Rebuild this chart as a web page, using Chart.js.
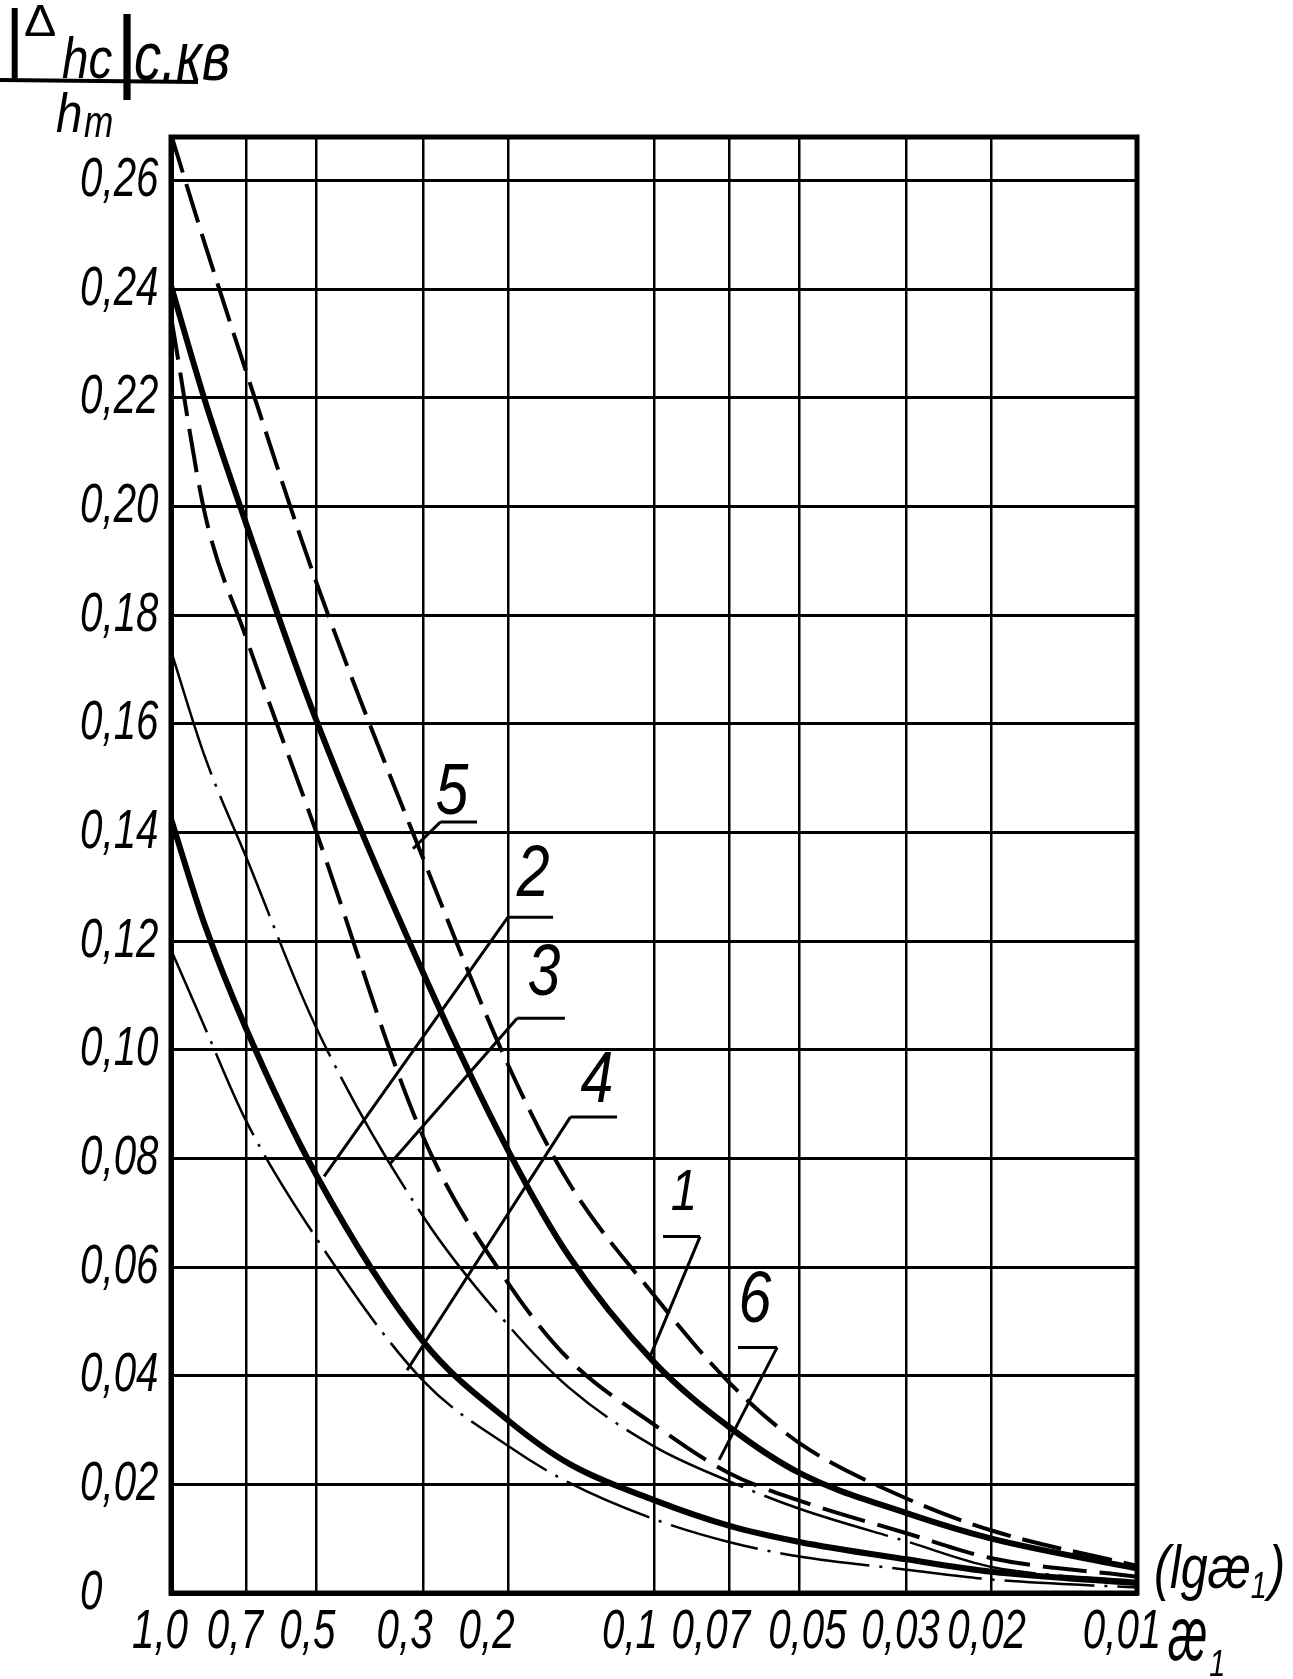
<!DOCTYPE html>
<html>
<head>
<meta charset="utf-8">
<script src="https://cdn.jsdelivr.net/npm/chart.js@4.4.1/dist/chart.umd.min.js"></script>
<style>
  html, body { margin: 0; padding: 0; background: #fff; }
  #wrap { width: 1293px; height: 1679px; }
</style>
</head>
<body>
<div id="wrap"><canvas id="chart" width="1293" height="1679"></canvas></div>
<script>
// ── DATA ─────────────────────────────────────────────────────────
const xValues = [1, 0.85, 0.7, 0.5, 0.3, 0.2, 0.15, 0.1, 0.07, 0.05, 0.03, 0.02, 0.01];

const curve5 = [0.2685, 0.2482, 0.225, 0.186, 0.135, 0.097, 0.0755, 0.0548, 0.0388, 0.0276, 0.0174, 0.0115, 0.005];
const curve1 = [0.2406, 0.2194, 0.197, 0.1606, 0.114, 0.0813, 0.062, 0.0425, 0.0306, 0.0221, 0.0147, 0.010, 0.0045];
const curve6 = [0.235, 0.1985, 0.176, 0.140, 0.0838, 0.0569, 0.043, 0.031, 0.0221, 0.017, 0.011, 0.0064, 0.003];
const curve3 = [0.1734, 0.1538, 0.1356, 0.104, 0.0692, 0.0492, 0.0378, 0.027, 0.0206, 0.0155, 0.0095, 0.0048, 0.0022];
const curve2 = [0.1425, 0.1228, 0.104, 0.0769, 0.0462, 0.0317, 0.0238, 0.0171, 0.0124, 0.0094, 0.0062, 0.0039, 0.0018];
const curve4 = [0.1184, 0.104, 0.087, 0.0653, 0.039, 0.027, 0.0203, 0.0136, 0.0094, 0.0067, 0.0043, 0.0025, 0.001];

const xTicks      = [1, 0.7, 0.5, 0.3, 0.2, 0.1, 0.07, 0.05, 0.03, 0.02, 0.01];
const xTickLabels = ['1,0', '0,7', '0,5', '0,3', '0,2', '0,1', '0,07', '0,05', '0,03', '0,02', '0,01'];
const yTicks      = [0, 0.02, 0.04, 0.06, 0.08, 0.10, 0.12, 0.14, 0.16, 0.18, 0.20, 0.22, 0.24, 0.26];
const yTickLabels = ['0', '0,02', '0,04', '0,06', '0,08', '0,10', '0,12', '0,14', '0,16', '0,18', '0,20', '0,22', '0,24', '0,26'];

// ── LOOK ─────────────────────────────────────────────────────────
const INK  = '#000';
const FONT = "'Liberation Sans', Arial, sans-serif";

// hand lettering on the x axis sits a little off the grid lines (px)
const xLabelNudge = [-11, -11, -9, -19, -22, -24, -18, 8, -6, -5, -15];

// curve numbers with their leader lines, in data units (x = æ1, y = value)
const curveLabels = [
  { text: '5', tx: 0.262, ty: 0.147, bar: [0.277, 0.2325, 0.1419], from: 0, end: [0.3155, 0.137] },
  { text: '2', tx: 0.178, ty: 0.132, bar: [0.2006, 0.1618, 0.1244], from: 0, end: [0.482, 0.0767] },
  { text: '3', tx: 0.169, ty: 0.1137, bar: [0.192, 0.1529, 0.1058], from: 0, end: [0.352, 0.079] },
  { text: '4', tx: 0.1312, ty: 0.094, bar: [0.149, 0.1193, 0.0876], from: 0, end: [0.3246, 0.041] },
  { text: '1', tx: 0.0867, ty: 0.0735, bar: [0.0958, 0.0803, 0.0656], from: 1, end: [0.1019, 0.0435], small: true },
  { text: '6', tx: 0.0618, ty: 0.0535, bar: [0.067, 0.0556, 0.0452], from: 1, end: [0.0733, 0.0245] },
];

const pts = ys => xValues.map((x, i) => ({ x, y: ys[i] }));

function curve(label, ys, width, dash) {
  return {
    label,
    data: pts(ys),
    borderColor: INK,
    borderWidth: width,
    borderDash: dash,
    borderCapStyle: 'butt',
    pointRadius: 0,
    fill: false,
    cubicInterpolationMode: 'monotone',
  };
}

// narrow, slanted lettering like the drafting font of the original
function say(ctx, text, x, y, size, sx, align = 'left', base = 'alphabetic', italic = true) {
  ctx.save();
  ctx.font = `${italic ? 'italic ' : ''}${size}px ${FONT}`;
  ctx.textAlign = align;
  ctx.textBaseline = base;
  ctx.translate(x, y);
  ctx.scale(sx, 1);
  ctx.fillText(text, 0, 0);
  const w = ctx.measureText(text).width * sx;
  ctx.restore();
  return w;
}

// ── PLUGINS ──────────────────────────────────────────────────────
const framePlugin = {
  id: 'frame',
  beforeDatasetsDraw(chart) {
    const { ctx, chartArea: a } = chart;
    ctx.save();
    ctx.strokeStyle = INK;
    ctx.lineWidth = 5;
    ctx.strokeRect(a.left, a.top, a.right - a.left, a.bottom - a.top);
    ctx.restore();
  },
};

const textPlugin = {
  id: 'texts',
  afterDraw(chart) {
    const { ctx } = chart;
    const sx = chart.scales.x, sy = chart.scales.y;
    ctx.save();
    ctx.fillStyle = INK;
    ctx.strokeStyle = INK;

    // tick labels
    sx.ticks.forEach((t, i) => {
      say(ctx, t.label ?? xTickLabels[i], sx.getPixelForTick(i) + xLabelNudge[i], 1632, 56, 0.72, 'center', 'middle');
    });
    sy.ticks.forEach((t, i) => {
      say(ctx, t.label ?? yTickLabels[i], 80, sy.getPixelForTick(i), 56, 0.72, 'left', 'middle');
    });

    // y axis title: |Δhc| с.кв over hm
    say(ctx, '|', 4, 62, 74, 1);
    say(ctx, 'Δ', 24, 36, 44, 1.1, 'left', 'alphabetic', false);
    say(ctx, 'hc', 62, 78, 58, 0.82);
    say(ctx, '|', 114, 80, 90, 1);
    say(ctx, 'с.кв', 134, 80, 68, 0.8);
    ctx.lineWidth = 4;
    ctx.beginPath();
    ctx.moveTo(0, 80);
    ctx.lineTo(198, 82);
    ctx.stroke();
    say(ctx, 'h', 56, 132, 56, 0.85);
    say(ctx, 'm', 84, 137, 44, 0.8);

    // right side: (lgæ1) and æ1 under the axis
    let x = 1154;
    x += say(ctx, '(lgæ', x, 1588, 62, 0.78);
    x += say(ctx, '1', x, 1598, 36, 0.8);
    say(ctx, ')', x + 2, 1588, 62, 0.8);
    x = 1168;
    x += say(ctx, 'æ', x, 1660, 76, 0.58);
    say(ctx, '1', x + 2, 1676, 36, 0.8);

    // curve numbers
    ctx.lineWidth = 3;
    curveLabels.forEach(l => {
      say(ctx, l.text, sx.getPixelForValue(l.tx), sy.getPixelForValue(l.ty),
          l.small ? 58 : 72, 0.82, 'center', 'middle');
      const x1 = sx.getPixelForValue(l.bar[0]);
      const x2 = sx.getPixelForValue(l.bar[1]);
      const yb = sy.getPixelForValue(l.bar[2]);
      const start = l.from === 0 ? x1 : x2;
      ctx.beginPath();
      ctx.moveTo(x1, yb);
      ctx.lineTo(x2, yb);
      ctx.moveTo(start, yb);
      ctx.lineTo(sx.getPixelForValue(l.end[0]), sy.getPixelForValue(l.end[1]));
      ctx.stroke();
    });
    ctx.restore();
  },
};

// ── CHART ────────────────────────────────────────────────────────
new Chart(document.getElementById('chart'), {
  type: 'line',
  data: {
    datasets: [
      curve('5', curve5, 4, [40, 12]),
      curve('1', curve1, 6, []),
      curve('6', curve6, 4, [44, 13]),
      curve('3', curve3, 2.5, [130, 10, 3, 10]),
      curve('2', curve2, 6, []),
      curve('4', curve4, 2.5, [90, 10, 3, 10]),
    ],
  },
  options: {
    responsive: false,
    animation: false,
    layout: { padding: { left: 66, top: 137, right: 156, bottom: 0 } },
    plugins: { legend: { display: false }, tooltip: { enabled: false } },
    scales: {
      x: {
        type: 'logarithmic',
        reverse: true,
        min: 0.01,
        max: 1,
        afterBuildTicks: s => { s.ticks = xTicks.map(v => ({ value: v })); },
        afterFit: s => { s.height = 86; },
        ticks: { display: false, autoSkip: false, callback: (v, i) => xTickLabels[i] },
        grid: { color: INK, lineWidth: 2.5, drawTicks: false },
        border: { color: INK, width: 5 },
      },
      y: {
        min: 0,
        max: 0.268,
        afterBuildTicks: s => { s.ticks = yTicks.map(v => ({ value: v })); },
        afterFit: s => { s.width = 105; },
        ticks: { display: false, callback: (v, i) => yTickLabels[i] },
        grid: { color: INK, lineWidth: 3, drawTicks: false },
        border: { color: INK, width: 5 },
      },
    },
  },
  plugins: [framePlugin, textPlugin],
});
</script>
</body>
</html>
